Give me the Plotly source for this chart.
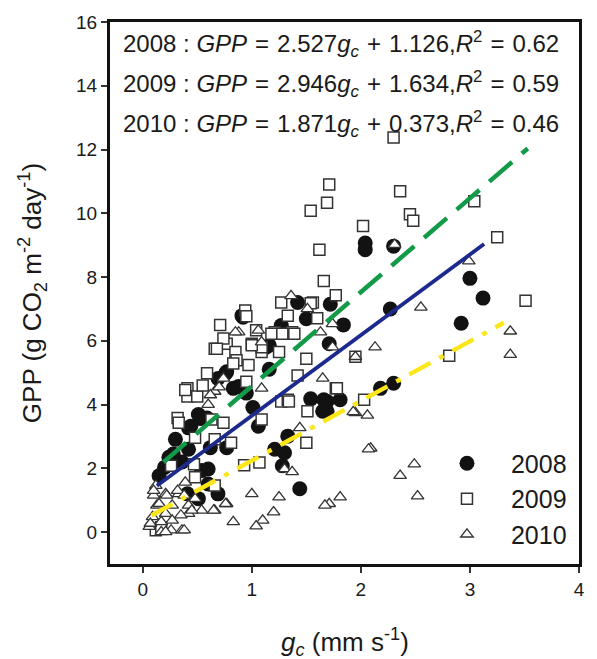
import plotly.graph_objects as go

# ---------------- data ----------------
years = ["2008", "2009", "2010"]

gc_2008 = [2.04, 2.04, 2.30, 3.00, 3.12, 2.92, 2.27, 1.84, 1.72, 1.42, 1.50, 1.27, 0.92, 1.13,
           1.71, 1.16, 0.94, 1.01, 1.54, 1.66, 1.65, 1.81, 2.18, 2.30, 1.33, 1.21, 1.30, 1.28,
           1.44, 0.91, 0.77, 0.69, 0.83, 0.51, 0.30, 0.44, 0.53, 0.20, 0.15, 0.77, 0.62, 0.54,
           0.69, 0.60, 0.95, 1.06, 0.88, 0.76, 0.42, 0.60, 0.41, 0.51, 0.59, 1.16, 0.42, 0.36,
           0.28, 1.69, 1.69, 0.24]
gpp_2008 = [9.07, 8.86, 8.97, 7.96, 7.34, 6.55, 7.00, 6.50, 7.15, 7.20, 6.69, 6.48, 6.74, 5.80,
            5.91, 5.11, 4.41, 3.91, 4.18, 4.15, 3.79, 4.15, 4.51, 4.67, 3.01, 2.60, 2.49, 2.08,
            1.36, 6.79, 5.03, 4.82, 4.51, 3.69, 2.91, 3.32, 3.56, 2.03, 1.77, 2.65, 2.65, 1.93,
            1.20, 1.51, 4.36, 3.32, 4.57, 4.98, 2.60, 1.98, 1.20, 1.05, 3.58, 5.86, 3.27, 2.20,
            2.45, 4.10, 3.79, 2.35]

gc_2009 = [1.71, 1.69, 1.54, 2.02, 1.62, 1.66, 2.36, 2.45, 2.48, 3.04, 3.25, 3.51, 1.77, 2.81,
           1.95, 2.03, 1.77, 1.50, 1.07, 1.27, 1.56, 1.33, 1.60, 0.94, 0.95, 1.21, 1.30, 1.37,
           1.04, 1.00, 1.09, 1.25, 1.50, 0.97, 1.42, 0.95, 1.27, 1.33, 1.51, 0.71, 0.66, 0.77,
           0.85, 0.86, 0.59, 0.41, 0.41, 0.50, 0.32, 0.39, 0.33, 0.48, 1.09, 1.34, 1.78, 1.09,
           0.74, 1.18, 0.83, 0.48, 0.66, 0.81, 0.63, 0.74, 0.47, 0.26, 0.66, 0.12, 0.17, 1.28,
           1.39, 0.68, 1.00, 1.54, 2.30, 0.55, 0.93]
gpp_2009 = [10.90, 10.33, 10.08, 9.60, 8.86, 7.88, 10.69, 9.97, 9.77, 10.38, 9.25, 7.26, 7.43, 5.53,
            5.50, 4.15, 4.51, 2.80, 2.18, 7.20, 7.20, 6.79, 6.71, 6.95, 6.77, 6.27, 6.22, 6.27,
            6.33, 5.91, 5.65, 5.65, 5.44, 5.24, 4.91, 4.72, 4.10, 4.15, 3.79, 6.50, 5.75, 5.91,
            5.65, 5.39, 4.98, 4.51, 4.25, 4.25, 3.58, 4.46, 3.43, 1.72, 3.53, 4.10, 4.51, 5.80,
            6.07, 6.22, 5.29, 2.96, 2.91, 2.80, 3.53, 3.43, 2.13, 2.08, 1.46, 0.06, 0.15, 6.22,
            6.22, 5.75, 5.86, 7.18, 12.38, 4.60, 2.10]

gc_2010 = [2.31, 2.99, 2.55, 3.37, 2.13, 1.74, 3.37, 1.95, 1.95, 2.06, 2.09, 2.49, 2.36, 2.52,
           1.81, 1.71, 1.67, 1.44, 1.30, 1.37, 1.00, 1.25, 1.20, 1.10, 1.04, 2.07, 1.36, 1.51,
           1.06, 1.09, 1.63, 0.88, 1.74, 1.65, 1.09, 1.93, 0.85, 0.74, 0.66, 0.60, 0.12, 0.10,
           0.13, 0.09, 0.06, 0.17, 0.26, 0.36, 0.42, 0.54, 0.66, 0.77, 0.83, 0.21, 0.33, 0.22,
           0.32, 0.15, 0.27, 0.38, 0.42, 0.21, 0.35, 0.45, 0.65, 0.76, 0.07, 0.17, 0.27, 0.21,
           0.38, 0.39, 0.70, 0.62, 0.10, 0.48]
gpp_2010 = [9.02, 8.50, 7.05, 6.30, 5.80, 6.53, 5.57, 5.50, 3.74, 3.66, 2.63, 2.13, 1.77, 1.13,
            1.10, 0.89, 0.84, 3.27, 1.98, 1.89, 1.20, 1.10, 0.63, 0.37, 0.19, 2.60, 7.41, 7.00,
            6.33, 5.96, 6.27, 6.27, 5.80, 4.82, 4.51, 3.77, 6.27, 4.82, 4.41, 4.00, 1.46, 1.15,
            0.84, 0.48, 0.17, 0.01, 0.06, 0.06, 0.58, 0.68, 0.68, 0.89, 0.32, 1.20, 1.20, 1.15,
            1.30, 0.89, 0.84, 1.15, 0.84, 0.58, 0.53, 0.68, 0.68, 0.89, 0.27, 0.32, 0.37, 0.01,
            0.06, 1.56, 4.55, 4.30, 1.30, 1.05]

# regression fits printed on the chart
slopes = [2.527, 2.946, 1.871]
intercepts = [1.126, 1.634, 0.373]
r2 = [0.62, 0.59, 0.46]
fit_x_range = [[0.13, 3.13], [0.19, 3.53], [0.08, 3.31]]

x_ticks = [0, 1, 2, 3, 4]
y_ticks = [0, 2, 4, 6, 8, 10, 12, 14, 16]

# ---------------- styling ----------------
FONT = "Arial, 'Liberation Sans', sans-serif"
line_colors = ["#1b2a8c", "#129a48", "#fbe619"]
line_dash = ["solid", "30px,13px", "24px,10px,5px,10px"]
line_width = [3.8, 4.5, 4.5]

fig = go.Figure()

fig.add_trace(go.Scatter(
    x=gc_2008, y=gpp_2008, mode="markers", name=years[0],
    marker=dict(symbol="circle", size=15, color="#121212", line=dict(width=0))))
fig.add_trace(go.Scatter(
    x=gc_2009, y=gpp_2009, mode="markers", name=years[1],
    marker=dict(symbol="square", size=11, color="white", line=dict(width=1.5, color="#333333"))))
fig.add_trace(go.Scatter(
    x=gc_2010, y=gpp_2010, mode="markers", name=years[2],
    marker=dict(symbol="triangle-up", size=11, color="white", line=dict(width=1.3, color="#333333"))))

for i in range(3):
    xs = fit_x_range[i]
    ys = [slopes[i] * v + intercepts[i] for v in xs]
    fig.add_trace(go.Scatter(
        x=xs, y=ys, mode="lines", showlegend=False, hoverinfo="skip",
        line=dict(color=line_colors[i], width=line_width[i], dash=line_dash[i])))

# equations
SP = "\u2004"
eq_y = [0.960, 0.886, 0.811]
for i in range(3):
    txt = (f"{years[i]} : <i>GPP</i>{SP}={SP}{slopes[i]:.3f}<i>g<sub>c</sub></i>{SP}+{SP}"
           f"{intercepts[i]:.3f},<i>R</i><sup>2</sup>{SP}={SP}{r2[i]:.2f}")
    fig.add_annotation(xref="paper", yref="paper", x=0.023, y=eq_y[i],
                       xanchor="left", yanchor="middle", showarrow=False,
                       text=txt, font=dict(size=24, color="#1a1a1a", family=FONT))

# axis titles
fig.add_annotation(xref="paper", yref="paper", x=-0.166, y=0.5, textangle=-90,
                   xanchor="center", yanchor="middle", showarrow=False,
                   text="GPP (g CO<sub>2</sub> m<sup>-2</sup> day<sup>-1</sup>)",
                   font=dict(size=26, color="#1a1a1a", family=FONT))
fig.add_annotation(xref="paper", yref="paper", x=0.5, y=-0.144,
                   xanchor="center", yanchor="middle", showarrow=False,
                   text="<i>g<sub>c</sub></i> (mm s<sup>-1</sup>)",
                   font=dict(size=26, color="#1a1a1a", family=FONT))

axis_common = dict(showgrid=False, zeroline=False, showline=True, linewidth=3,
                   linecolor="#111111", mirror=True, ticks="outside", ticklen=6,
                   tickwidth=1.5, tickcolor="#333333",
                   tickfont=dict(size=19, color="#1a1a1a", family=FONT))

fig.update_layout(
    width=597, height=659,
    margin=dict(l=110, r=13, t=17, b=95),
    paper_bgcolor="white", plot_bgcolor="white",
    font=dict(family=FONT, color="#1a1a1a"),
    xaxis=dict(range=[-0.3, 4.0], tickvals=x_ticks, **axis_common),
    yaxis=dict(range=[-1, 16], tickvals=y_ticks, **axis_common),
    legend=dict(x=0.985, y=0.012, xanchor="right", yanchor="bottom",
                bgcolor="rgba(0,0,0,0)", font=dict(size=25, family=FONT, color="#1a1a1a"),
                itemwidth=78, tracegroupgap=0),
)

fig.write_html("out.html")
